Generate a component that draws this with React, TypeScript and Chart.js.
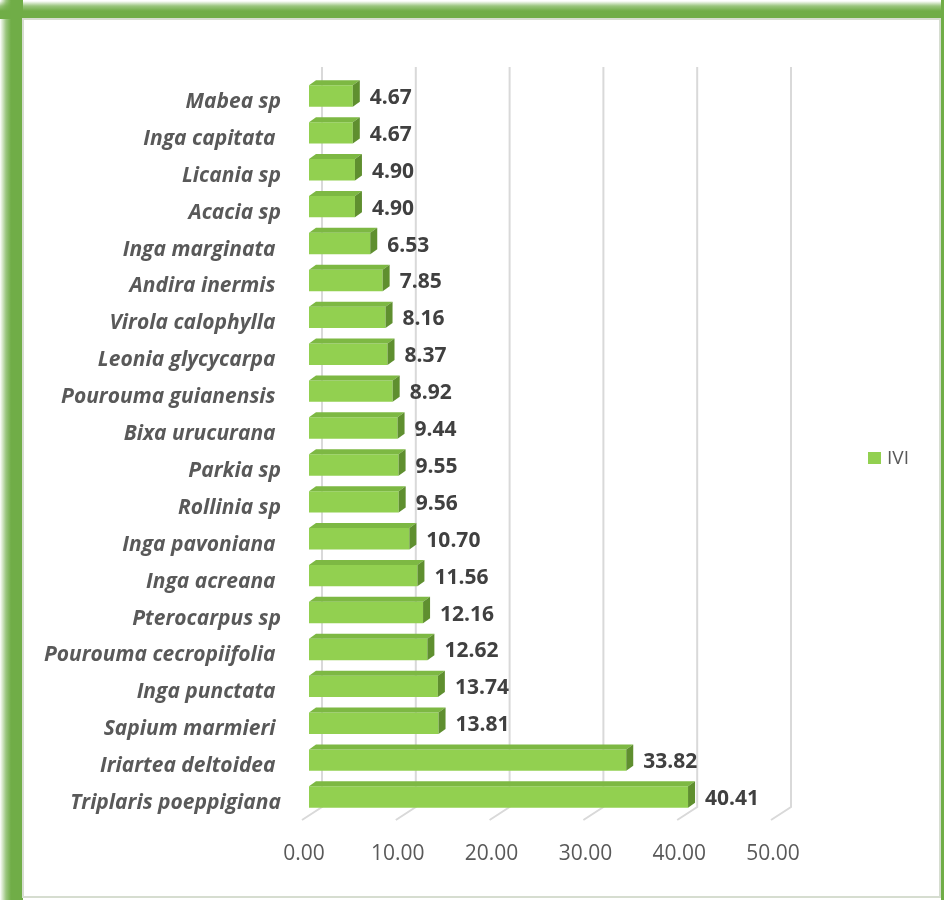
import React, { useEffect, useRef } from 'react';
import { Chart, registerables } from 'chart.js';
Chart.register(...registerables);

const categories = [
  'Mabea sp', 'Inga capitata ', 'Licania sp', 'Acacia sp', 'Inga marginata ',
  'Andira inermis ', 'Virola calophylla ', 'Leonia glycycarpa ', 'Pourouma guianensis ',
  'Bixa urucurana ', 'Parkia sp', 'Rollinia sp', 'Inga pavoniana ', 'Inga acreana ',
  'Pterocarpus sp', 'Pourouma cecropiifolia ', 'Inga punctata ', 'Sapium marmieri ',
  'Iriartea deltoidea ', 'Triplaris poeppigiana',
];
const iviValues = [
  4.67, 4.67, 4.9, 4.9, 6.53, 7.85, 8.16, 8.37, 8.92, 9.44,
  9.55, 9.56, 10.7, 11.56, 12.16, 12.62, 13.74, 13.81, 33.82, 40.41,
];
const xTickValues = [0, 10, 20, 30, 40, 50];
const seriesName = 'IVI';

const FONT = '"Open Sans", "DejaVu Sans", sans-serif';
const FRONT = '#92D050';
const TOP = '#7DB843';
const SIDE = '#5F8F2F';
const GRID = '#d9d9d9';

export default function App() {
  const ref = useRef<HTMLCanvasElement>(null);
  useEffect(() => {
    if (!ref.current) return;
    const dx = 7, dy = 5;
    const threeD = {
      id: 'threeD',
      beforeDatasetsDraw(chart: any) {
        const ctx = chart.ctx;
        const xs = chart.scales.x;
        const a = chart.chartArea;
        ctx.save();
        ctx.strokeStyle = GRID;
        ctx.lineWidth = 2;
        for (const v of xTickValues) {
          const px = xs.getPixelForValue(v);
          ctx.beginPath();
          ctx.moveTo(px + 13, a.top - 10.5);
          ctx.lineTo(px + 13, a.bottom - 8.5);
          ctx.lineTo(px - 7, a.bottom + 4.5);
          ctx.stroke();
        }
        ctx.restore();
      },
      afterDatasetsDraw(chart: any) {
        const ctx = chart.ctx;
        const meta = chart.getDatasetMeta(0);
        ctx.save();
        meta.data.forEach((bar: any, i: number) => {
          const { x, y, base, height } = bar.getProps(['x', 'y', 'base', 'height'], true);
          const t = y - height / 2;
          const b = y + height / 2;
          ctx.fillStyle = TOP;
          ctx.beginPath();
          ctx.moveTo(base, t);
          ctx.lineTo(x, t);
          ctx.lineTo(x + dx, t - dy);
          ctx.lineTo(base + dx, t - dy);
          ctx.closePath();
          ctx.fill();
          ctx.fillStyle = SIDE;
          ctx.beginPath();
          ctx.moveTo(x, t);
          ctx.lineTo(x + dx, t - dy);
          ctx.lineTo(x + dx, b - dy);
          ctx.lineTo(x, b);
          ctx.closePath();
          ctx.fill();
          ctx.fillStyle = '#404040';
          ctx.font = `bold 21px ${FONT}`;
          ctx.textAlign = 'left';
          ctx.textBaseline = 'middle';
          ctx.fillText(iviValues[i].toFixed(2), x + dx + 10, y + 2);
        });
        ctx.restore();
      },
      afterDraw(chart: any) {
        const ctx = chart.ctx;
        ctx.save();
        ctx.fillStyle = FRONT;
        ctx.fillRect(868, 452, 13, 12);
        ctx.fillStyle = '#595959';
        ctx.font = `19px ${FONT}`;
        ctx.textAlign = 'left';
        ctx.textBaseline = 'middle';
        ctx.fillText(seriesName, 887, 459);
        ctx.restore();
      },
    };

    const chart = new Chart(ref.current, {
      type: 'bar',
      data: {
        labels: categories,
        datasets: [
          {
            label: seriesName,
            data: iviValues,
            backgroundColor: FRONT,
            borderWidth: 0,
            categoryPercentage: 1,
            barPercentage: 0.58,
          },
        ],
      },
      options: {
        indexAxis: 'y',
        responsive: false,
        animation: false,
        layout: { padding: { left: 24, right: 944 - 778, top: 77.5, bottom: 900 - 815.5 - 50 } },
        plugins: { legend: { display: false }, tooltip: { enabled: false } },
        scales: {
          x: {
            min: 0,
            max: 50,
            afterFit: (s: any) => { s.height = 50; },
            afterBuildTicks: (s: any) => { s.ticks = xTickValues.map((v) => ({ value: v })); },
            grid: { display: false, drawTicks: false },
            border: { display: false },
            ticks: {
              padding: 26,
              labelOffset: -5,
              color: '#595959',
              font: { family: FONT, size: 21 },
              callback: (v: any) => Number(v).toFixed(2),
            },
          },
          y: {
            afterFit: (s: any) => { s.width = 309 - 24; },
            grid: { display: false, drawTicks: false },
            border: { display: false },
            ticks: {
              padding: 28,
              labelOffset: 6,
              color: '#595959',
              font: { family: FONT, size: 21, weight: 'bold', style: 'italic' },
            },
          },
        },
      },
      plugins: [threeD],
    });
    return () => chart.destroy();
  }, []);

  const green = '#70AD47';
  return (
    <div style={{ position: 'absolute', left: 0, top: 0, width: 944, height: 900, background: '#fff', overflow: 'hidden' }}>
      <div style={{ position: 'absolute', left: 0, top: 0, width: 23, height: 900,
        background: `linear-gradient(to right, rgba(112,173,71,0) 0px, rgba(112,173,71,0.7) 6px, ${green} 11px)` }} />
      <div style={{ position: 'absolute', left: 0, top: 0, width: 944, height: 19,
        background: `linear-gradient(to bottom, rgba(112,173,71,0) 1px, rgba(112,173,71,0.7) 6px, ${green} 11px)` }} />
      <div style={{ position: 'absolute', left: 941, top: 0, width: 3, height: 900, background: green }} />
      <div style={{ position: 'absolute', left: 22, top: 18, width: 919, height: 880, boxSizing: 'border-box',
        border: '2px solid #d6ddd0', background: '#fff' }} />
      <canvas ref={ref} width={944} height={900} style={{ position: 'absolute', left: 0, top: 0, display: 'block' }} />
    </div>
  );
}
